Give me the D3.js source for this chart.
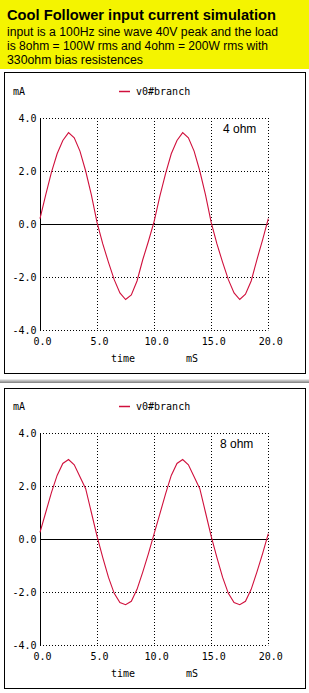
<!DOCTYPE html>
<html>
<head>
<meta charset="utf-8">
<script src="https://cdn.jsdelivr.net/npm/d3@7"></script>
<style>
  html, body { margin: 0; padding: 0; background: #fff; }
  svg { display: block; }
</style>
</head>
<body>
<div id="chart"></div>
<script>
// chart data
var titleText = "Cool Follower input current simulation";
var noteLines = ["input is a 100Hz sine wave 40V peak and the load",
                 "is 8ohm = 100W rms and 4ohm = 200W rms with",
                 "330ohm bias resistences"];
var seriesName = "v0#branch";
var yUnit = "mA";
var xLabel = "time";
var xUnit = "mS";
var xTicks = [0, 5, 10, 15, 20];
var yTicks = [4, 2, 0, -2, -4];

// time in ms
var timeMs = [0, 0.5, 1, 1.5, 2, 2.5, 3, 3.5, 4, 4.5,
              5, 5.5, 6, 6.5, 7, 7.5, 8, 8.5, 9, 9.5,
              10, 10.5, 11, 11.5, 12, 12.5, 13, 13.5, 14, 14.5,
              15, 15.5, 16, 16.5, 17, 17.5, 18, 18.5, 19, 19.5, 20];

// 4 ohm load current (mA)
var current4ohm = [0.2, 1.1, 1.95, 2.65, 3.15, 3.45, 3.25, 2.75, 2.0, 1.1,
                   0.05, -0.75, -1.45, -2.1, -2.6, -2.85, -2.68, -2.15, -1.35, -0.65,
                   0.1, 1.05, 1.9, 2.65, 3.15, 3.45, 3.25, 2.75, 2.0, 1.1,
                   0.05, -0.75, -1.45, -2.1, -2.6, -2.85, -2.65, -2.15, -1.35, -0.6, 0.2];

// 8 ohm load current (mA)
var current8ohm = [0.25, 1.0, 1.75, 2.4, 2.85, 3.0, 2.8, 2.35, 1.9, 1.0,
                   0.1, -0.7, -1.45, -2.05, -2.4, -2.48, -2.35, -1.9, -1.25, -0.55,
                   0.2, 0.95, 1.7, 2.4, 2.85, 3.0, 2.8, 2.35, 1.9, 1.0,
                   0.1, -0.7, -1.45, -2.05, -2.4, -2.48, -2.35, -1.9, -1.25, -0.55, 0.2];

var panelNames = ["4 ohm", "8 ohm"];

var width = 309, height = 693;
var mono = "'DejaVu Sans Mono', monospace";
var sans = "'Liberation Sans', Arial, sans-serif";
var red = "#d0103c";

var svg = d3.select("#chart").append("svg")
    .attr("width", width)
    .attr("height", height);

// yellow header
svg.append("rect")
    .attr("x", 0).attr("y", 0)
    .attr("width", width).attr("height", 69)
    .attr("fill", "#f4f400");

svg.append("text")
    .attr("x", 7).attr("y", 20)
    .attr("font-family", sans)
    .attr("font-weight", "bold")
    .attr("font-size", 14)
    .attr("textLength", 269)
    .attr("lengthAdjust", "spacingAndGlyphs")
    .text(titleText);

var noteWidths = [271, 261, 136];
svg.selectAll(".note")
    .data(noteLines)
    .enter()
    .append("text")
    .attr("class", "note")
    .attr("x", 7)
    .attr("y", function(d, i){ return 36 + i * 14; })
    .attr("font-family", sans)
    .attr("font-size", 12)
    .attr("textLength", function(d, i){ return noteWidths[i]; })
    .attr("lengthAdjust", "spacingAndGlyphs")
    .text(function(d){ return d; });

// grey separator between the two plots
var sepColors = ["#e4e4e4", "#c4c4c4", "#a8a8a8", "#8c8c8c"];
sepColors.forEach(function(c, i){
    svg.append("rect")
        .attr("x", 0).attr("y", 379 + i)
        .attr("width", width).attr("height", 1)
        .attr("fill", c);
});

drawPanel(current4ohm, panelNames[0], 0, 72.5, 301);
drawPanel(current8ohm, panelNames[1], 315, 388.5, 300);

function drawPanel(values, name, oy, boxY, boxH){
    var g = svg.append("g");

    // frame
    g.append("rect")
        .attr("x", 4.5).attr("y", boxY)
        .attr("width", 301).attr("height", boxH)
        .attr("fill", "none")
        .attr("stroke", "#000")
        .attr("stroke-width", 1);

    var x = d3.scaleLinear().domain([0, 20]).range([40, 268.3]);
    var y = d3.scaleLinear().domain([-4, 4]).range([330 + oy, 118 + oy]);

    // dotted grid
    g.selectAll(".vgrid")
        .data(xTicks.filter(function(d){ return d > 0; }))
        .enter()
        .append("line")
        .attr("x1", function(d){ return Math.round(x(d)) + 0.5; })
        .attr("x2", function(d){ return Math.round(x(d)) + 0.5; })
        .attr("y1", y(4)).attr("y2", y(-4))
        .attr("stroke", "#000")
        .attr("stroke-dasharray", "1,2");

    g.selectAll(".hgrid")
        .data(yTicks.filter(function(d){ return d !== 0; }))
        .enter()
        .append("line")
        .attr("x1", x(0)).attr("x2", x(20))
        .attr("y1", function(d){ return Math.round(y(d)) + 0.5; })
        .attr("y2", function(d){ return Math.round(y(d)) + 0.5; })
        .attr("stroke", "#000")
        .attr("stroke-dasharray", "1,2");

    // zero line and left axis line
    g.append("line")
        .attr("x1", x(0)).attr("x2", x(20))
        .attr("y1", Math.round(y(0)) + 0.5).attr("y2", Math.round(y(0)) + 0.5)
        .attr("stroke", "#000");
    g.append("line")
        .attr("x1", Math.round(x(0)) + 0.5).attr("x2", Math.round(x(0)) + 0.5)
        .attr("y1", y(4)).attr("y2", y(-4))
        .attr("stroke", "#000");

    // tick labels
    var yAxis = g.append("g")
        .attr("transform", "translate(" + (x(0) - 0.5) + ",0)")
        .call(d3.axisLeft(y).tickValues(yTicks).tickSize(0).tickPadding(3)
            .tickFormat(function(d){ return d.toFixed(1); }));
    var xAxis = g.append("g")
        .attr("transform", "translate(2," + y(-4) + ")")
        .call(d3.axisBottom(x).tickValues(xTicks).tickSize(0).tickPadding(8)
            .tickFormat(function(d){ return d.toFixed(1); }));
    [yAxis, xAxis].forEach(function(ax){
        ax.select(".domain").remove();
        ax.attr("font-family", mono).attr("font-size", 10);
        ax.selectAll("text").attr("fill", "#000");
    });

    // unit / axis titles
    g.append("text")
        .attr("x", 13).attr("y", 95 + oy)
        .attr("font-family", mono).attr("font-size", 10)
        .text(yUnit);
    g.append("text")
        .attr("x", 111).attr("y", 362 + oy)
        .attr("font-family", mono).attr("font-size", 10)
        .text(xLabel);
    g.append("text")
        .attr("x", 186).attr("y", 362 + oy)
        .attr("font-family", mono).attr("font-size", 10)
        .text(xUnit);

    // legend
    g.append("line")
        .attr("x1", 119).attr("x2", 130)
        .attr("y1", 91.5 + oy).attr("y2", 91.5 + oy)
        .attr("stroke", red).attr("stroke-width", 1.5);
    g.append("text")
        .attr("x", 136).attr("y", 95 + oy)
        .attr("font-family", mono).attr("font-size", 10)
        .text(seriesName);

    // load label
    g.append("text")
        .attr("x", name === "4 ohm" ? 223 : 220).attr("y", 133 + oy)
        .attr("font-family", sans).attr("font-size", 12)
        .text(name);

    // current trace
    var line = d3.line()
        .x(function(d, i){ return x(timeMs[i]); })
        .y(function(d){ return y(d); });
    g.append("path")
        .datum(values)
        .attr("d", line)
        .attr("fill", "none")
        .attr("stroke", red)
        .attr("stroke-width", 1.1);
}
</script>
</body>
</html>
